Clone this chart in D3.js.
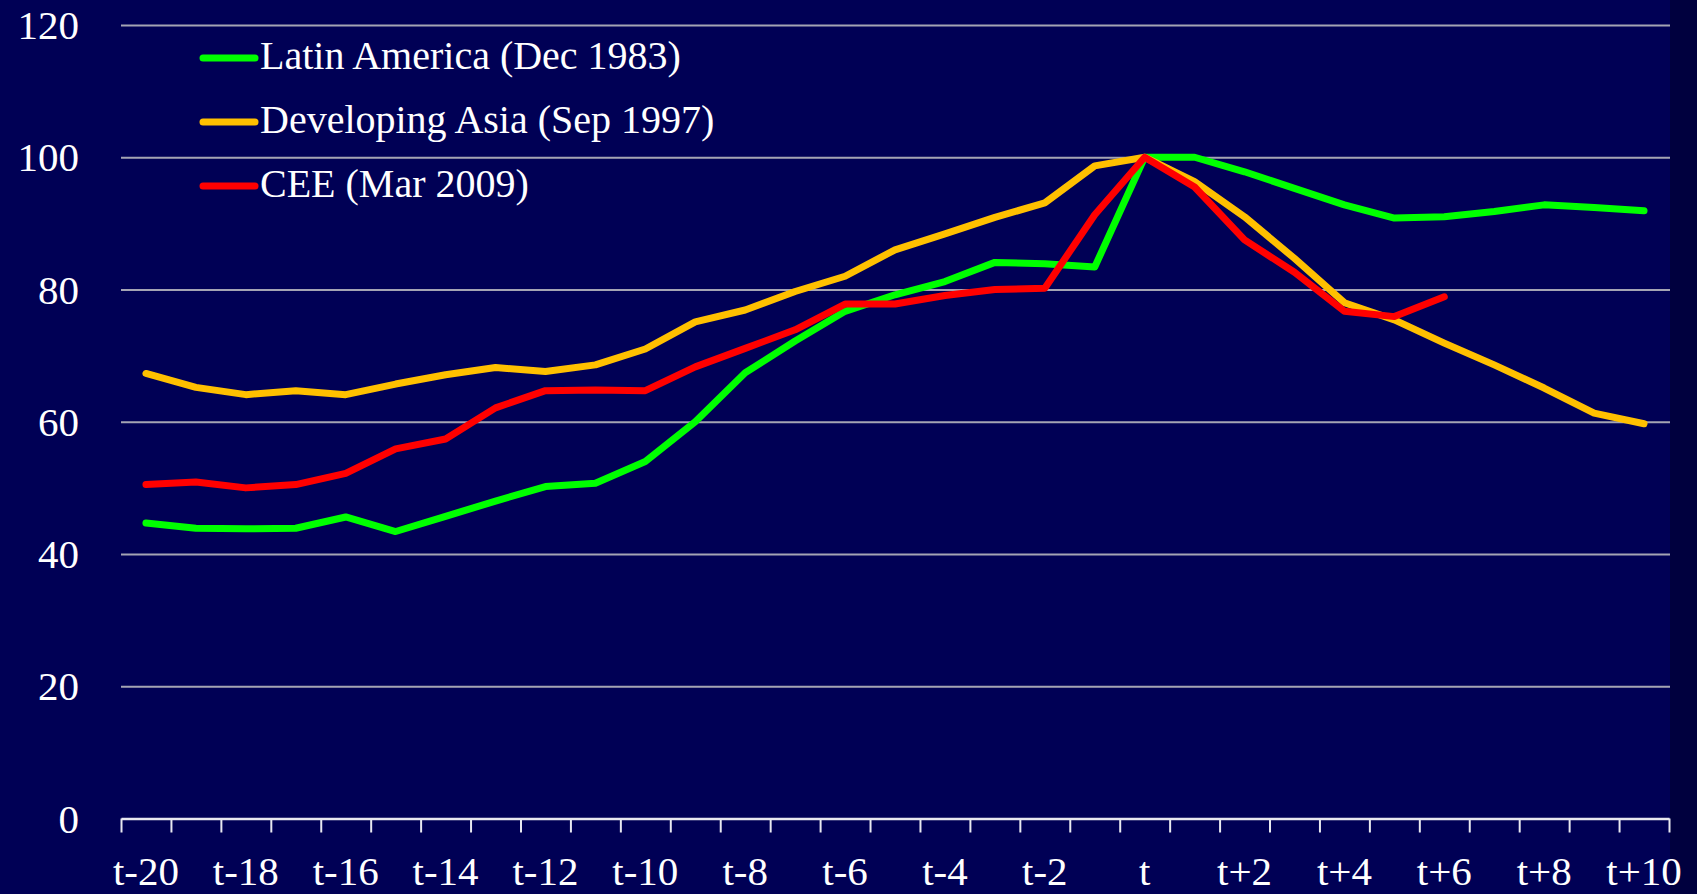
<!DOCTYPE html>
<html lang="en">
<head>
  <meta charset="UTF-8">
  <title>Peak comparisons</title>
  <style>
    body { margin: 0; background: #00003e; }
    text { font-family: "Liberation Serif", "DejaVu Serif", serif; fill: #ffffff; }
    .gridlines line { stroke: #a4a4b4; stroke-width: 2; }
    .gridlines path { display: none; }
    .x.axis path { stroke: #e8e8f0; stroke-width: 2.5; }
    .x.axis line { stroke: #e8e8f0; stroke-width: 2; }
  </style>
  <script src="https://d3js.org/d3.v7.min.js"></script>
</head>
<body>
  <svg id="chart" width="1697" height="894"></svg>
  <script>
    const periods = ["t-20", "t-19", "t-18", "t-17", "t-16", "t-15", "t-14", "t-13", "t-12", "t-11",
      "t-10", "t-9", "t-8", "t-7", "t-6", "t-5", "t-4", "t-3", "t-2", "t-1",
      "t", "t+1", "t+2", "t+3", "t+4", "t+5", "t+6", "t+7", "t+8", "t+9", "t+10"];
    const tickLabels = ["t-20", "t-18", "t-16", "t-14", "t-12", "t-10", "t-8", "t-6", "t-4", "t-2",
      "t", "t+2", "t+4", "t+6", "t+8", "t+10"];
    const yTicks = [0, 20, 40, 60, 80, 100, 120];

    const latinAmerica = [44.7, 43.9, 43.8, 43.9, 45.6, 43.4, 45.7, 48.0, 50.2, 50.7,
      54.0, 60.0, 67.4, 72.2, 76.7, 79.2, 81.2, 84.1, 83.9, 83.4,
      100, 100.0, 97.8, 95.3, 92.8, 90.8, 91.0, 91.8, 92.8, 92.4, 91.9];
    const developingAsia = [67.3, 65.2, 64.1, 64.7, 64.1, 65.7, 67.1, 68.2, 67.6, 68.6,
      71.0, 75.1, 76.9, 79.7, 82.0, 86.0, 88.4, 90.9, 93.1, 98.7,
      100, 96.3, 91.0, 84.7, 78.0, 75.4, 71.9, 68.6, 65.1, 61.3, 59.7];
    const cee = [50.5, 50.9, 50.0, 50.5, 52.2, 55.9, 57.4, 62.1, 64.7, 64.8,
      64.7, 68.3, 71.1, 73.9, 77.8, 77.8, 79.1, 80.0, 80.2, 91.3,
      100, 95.5, 87.5, 82.6, 76.7, 75.9, 78.9, null, null, null, null];

    const series = [
      { name: "Latin America (Dec 1983)", color: "#00ff00", values: latinAmerica },
      { name: "Developing Asia (Sep 1997)", color: "#ffc000", values: developingAsia },
      { name: "CEE (Mar 2009)", color: "#ff0000", values: cee }
    ];

    const svg = d3.select("svg#chart");
    const plotLeft = 121, plotRight = 1669, plotTop = 25, plotBottom = 818.5;

    // plot background (the slide strip on the right is a bit darker)
    svg.append("rect")
      .attr("x", 0).attr("y", 0)
      .attr("width", plotRight + 1).attr("height", 894)
      .attr("fill", "#000055");

    const xScale = d3.scaleBand().domain(periods).range([plotLeft, plotRight]);
    const xTicks = d3.scaleLinear().domain([0, periods.length]).range([plotLeft, plotRight]);
    const yScale = d3.scaleLinear().domain([0, 120]).range([plotBottom, plotTop]);
    const xPos = d => xScale(d) + xScale.bandwidth() / 2;

    // gridlines
    svg.append("g")
      .attr("class", "gridlines")
      .attr("transform", `translate(${plotLeft},0)`)
      .call(d3.axisLeft(yScale).tickValues(yTicks.filter(d => d > 0)).tickSize(-(plotRight - plotLeft + 1)).tickFormat(""));

    // y labels
    svg.append("g")
      .selectAll("text")
      .data(yTicks)
      .join("text")
      .attr("x", 79)
      .attr("y", d => yScale(d) + 14)
      .attr("text-anchor", "end")
      .attr("font-size", 41)
      .text(d => d);

    // x axis: tick marks at band edges
    svg.append("g")
      .attr("class", "x axis")
      .attr("transform", `translate(0,${plotBottom})`)
      .call(d3.axisBottom(xTicks).tickValues(d3.range(periods.length + 1)).tickSize(14).tickSizeOuter(0).tickFormat(""));

    // x labels
    svg.append("g")
      .selectAll("text")
      .data(tickLabels)
      .join("text")
      .attr("x", d => xPos(d))
      .attr("y", plotBottom + 66)
      .attr("text-anchor", "middle")
      .attr("font-size", 41)
      .text(d => d);

    // lines
    const line = d3.line()
      .defined(d => d.v !== null)
      .x(d => xPos(d.p))
      .y(d => yScale(d.v));

    series.forEach(s => {
      svg.append("path")
        .datum(periods.map((p, i) => ({ p: p, v: s.values[i] })))
        .attr("fill", "none")
        .attr("stroke", s.color)
        .attr("stroke-width", 7)
        .attr("stroke-linejoin", "round")
        .attr("stroke-linecap", "round")
        .attr("d", line);
    });

    // legend
    const legend = svg.append("g");
    series.forEach((s, i) => {
      const y = 58 + i * 64;
      legend.append("line")
        .attr("x1", 203).attr("x2", 255)
        .attr("y1", y).attr("y2", y)
        .attr("stroke", s.color)
        .attr("stroke-width", 7)
        .attr("stroke-linecap", "round");
      legend.append("text")
        .attr("x", 260)
        .attr("y", y + 11)
        .attr("font-size", 40)
        .text(s.name);
    });
  </script>
</body>
</html>
